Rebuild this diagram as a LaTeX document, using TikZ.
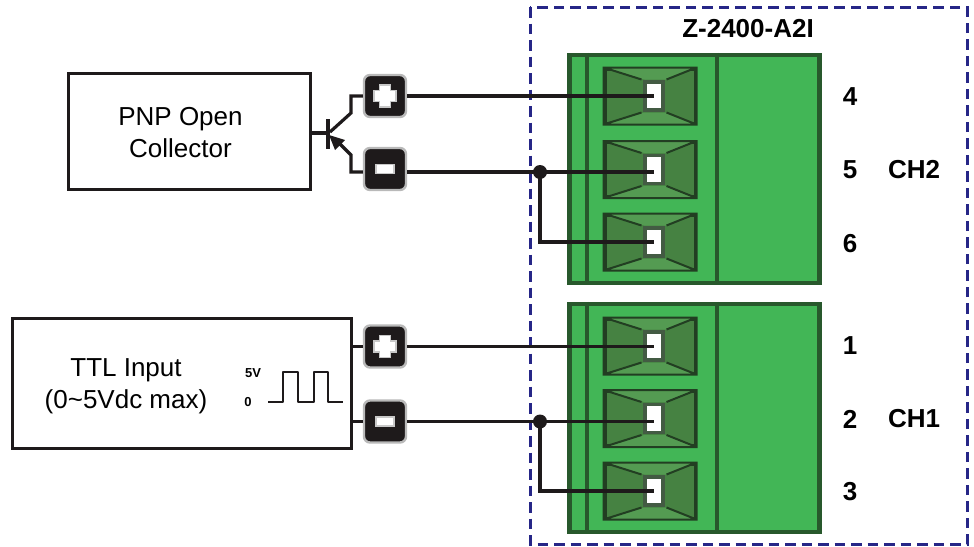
\documentclass[tikz,border=0pt]{standalone}
\usepackage{fontspec}
\setmainfont{Liberation Sans}
\usepackage{color}
\definecolor{framecol}{RGB}{38,38,135}
\definecolor{wirecol}{RGB}{30,26,27}
\definecolor{blockgreen}{RGB}{66,182,86}
\definecolor{blockdark}{RGB}{40,88,44}
\definecolor{pocketdark}{RGB}{34,62,34}
\definecolor{pocketside}{RGB}{70,130,66}
\definecolor{pocketmid}{RGB}{84,155,82}
\definecolor{btnedge}{RGB}{185,185,185}
\definecolor{signedge}{RGB}{200,200,200}
\newcommand{\widthbutton}{42pt}
\newcommand{\heightpocket}{54pt}
\newcommand{\widthpocket}{90pt}
\tikzset{
    wire/.style={draw=wirecol, line width=3.2pt},
    box/.style={draw=wirecol, line width=3pt, fill=white},
    boxtext/.style={font=\fontsize{26}{32}\selectfont, align=center},
    num/.style={font=\fontsize{26}{30}\selectfont\bfseries},
    tiny/.style={font=\fontsize{13}{15}\selectfont\bfseries},
    btn/.style={draw=btnedge, line width=2.4pt, fill=wirecol, rounded corners=6pt, minimum size=\widthbutton, inner sep=0pt},
    plusbtn/.style={btn, path picture={
        \draw[signedge, fill=white, line width=1.2pt, sharp corners]
            ([shift={(-5.5pt,-11pt)}]path picture bounding box.center) -- ++(11pt,0) -- ++(0,5.5pt) -- ++(5.5pt,0)
            -- ++(0,11pt) -- ++(-5.5pt,0) -- ++(0,5.5pt) -- ++(-11pt,0) -- ++(0,-5.5pt) -- ++(-5.5pt,0)
            -- ++(0,-11pt) -- ++(5.5pt,0) -- cycle;
    }},
    minusbtn/.style={btn, path picture={
        \draw[signedge, fill=white, line width=1.2pt, sharp corners]
            ([shift={(-9pt,-4.5pt)}]path picture bounding box.center) rectangle ++(18pt,9pt);
    }},
    block/.style={draw=blockdark, line width=4.5pt, fill=blockgreen, minimum width=250pt, minimum height=228pt, inner sep=0pt},
    pocket/.style={draw=pocketdark, line width=3pt, fill=pocketside, minimum width=\widthpocket, minimum height=\heightpocket, inner sep=0pt},
    window/.style={draw=pocketdark!85!white, line width=3.5pt, fill=white, minimum width=18pt, minimum height=28pt, inner sep=0pt},
    dot/.style={circle, fill=wirecol, minimum size=14pt, inner sep=0pt}
}
% one screw of a terminal block: name, centre
\newcommand{\screw}[2]{
    \node[pocket] (p#1) at #2 {};
    \fill[pocketmid] (p#1.north west) -- (p#1.north east) -- ++(-30pt,-12pt) -- ++(-22pt,0) -- cycle;
    \fill[pocketmid] (p#1.south west) -- (p#1.south east) -- ++(-30pt,12pt) -- ++(-22pt,0) -- cycle;
    \draw[pocketdark, line width=2pt]
        (p#1.north west) -- ++(38pt,-12pt)
        (p#1.north east) -- ++(-30pt,-12pt)
        (p#1.south west) -- ++(38pt,12pt)
        (p#1.south east) -- ++(-30pt,12pt)
        (p#1.north west) rectangle (p#1.south east);
    \node[window, xshift=4pt] (w#1) at #2 {};
}
% terminal block outline: name, centre
\newcommand{\termblock}[2]{
    \node[block] (b#1) at #2 {};
    \draw[blockdark, line width=4pt]
        ([xshift=20pt]b#1.north west) -- ([xshift=20pt]b#1.south west)
        ([xshift=150pt]b#1.north west) -- ([xshift=150pt]b#1.south west);
}

\begin{document}
\begin{tikzpicture}[x=1pt, y=-1pt]
    \useasboundingbox (0,0) rectangle (974,546);

    \draw[framecol, line width=3pt, dash pattern=on 10.5pt off 6pt] (530,7) rectangle (967,544);
    \node[num] (model) at (748,29) {Z-2400-A2I};

    \termblock{top}{(694.5,169)}
    \termblock{bot}{(694.5,418)}
    \screw{4}{(650,96)}
    \screw{5}{(650,169.5)}
    \screw{6}{(650,242)}
    \screw{1}{(650,346)}
    \screw{2}{(650,418.5)}
    \screw{3}{(650,491)}

    \node[num] (n4) at (850,97) {4};
    \node[num] (n5) at (850,170) {5};
    \node[num] (n6) at (850,244) {6};
    \node[num] (n1) at (850,346) {1};
    \node[num] (n2) at (850,419) {2};
    \node[num] (n3) at (850,492) {3};
    \node[num] (ch2) at (914,170) {CH2};
    \node[num] (ch1) at (914,419) {CH1};

    \node[box, minimum width=242pt, minimum height=116pt] (pnp) at (189,131.5) {};
    \node[boxtext] (pnptext) at (180.5,133) {PNP Open\\Collector};
    \node[box, minimum width=339pt, minimum height=130pt] (ttl) at (181.5,383) {};
    \node[boxtext] (ttltext) at (126,386) {TTL Input\\(0\textasciitilde 5Vdc max)};
    \node[tiny] (five) at (253,373) {5V};
    \node[tiny] (zero) at (248,402) {0};
    \coordinate (wavein) at (268,402);
    \draw[draw=wirecol, line width=2.2pt, line join=round] (wavein) -- ++(15,0) -- ++(0,-30) -- ++(15,0) -- ++(0,30) -- ++(16,0) -- ++(0,-30) -- ++(14,0) -- ++(0,30) -- ++(15,0);

    \node[plusbtn] (p2btn) at (385,96) {};
    \node[minusbtn] (m2btn) at (385,169) {};
    \node[plusbtn] (p1btn) at (385,346.5) {};
    \node[minusbtn] (m1btn) at (385,421.5) {};

    % transistor
    \coordinate (base) at (328,133);
    \draw[wire] (pnp.east |- base) -- (base);
    \draw[wire, line width=3.6pt] (328,119) -- (328,149);
    \draw[wire] (330,132) -- (351,113) -- (351,96) -- (p2btn.west);
    \draw[wire] (m2btn.west |- 0,172) -- (351,172) -- (351,155) -- (340,144);
    \fill[wirecol] (329,135) -- (345,140) -- (335,150) -- cycle;

    % wires to the terminals
    \draw[wire] (p2btn.east) -- (w4.center);
    \draw[wire] (m2btn.east |- 0,172) -- (w5.center |- 0,172);
    \node[dot] (j2) at (540,172) {};
    \draw[wire] (j2.center) |- (w6.center);
    \draw[wire] (ttl.east |- p1btn) -- (p1btn.west);
    \draw[wire] (p1btn.east) -- (w1.center |- p1btn);
    \draw[wire] (ttl.east |- m1btn) -- (m1btn.west);
    \draw[wire] (m1btn.east) -- (w2.center |- m1btn);
    \node[dot] (j1) at (540,421.5) {};
    \draw[wire] (j1.center) |- (w3.center);

\end{tikzpicture}
\end{document}
